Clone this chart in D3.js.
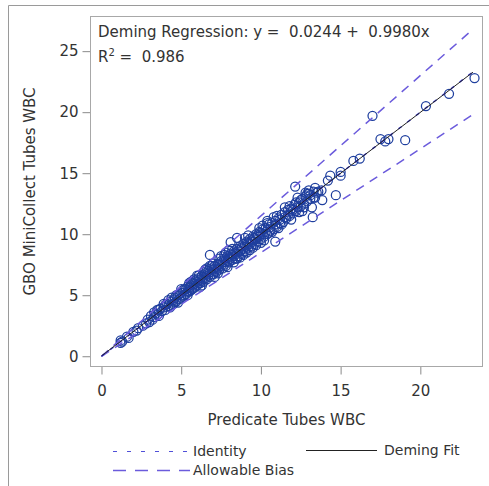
<!DOCTYPE html>
<html>
<head>
<meta charset="utf-8">
<style>
  body { margin: 0; background: #fff; }
  svg { font-family: "DejaVu Sans", Verdana, sans-serif; }
</style>
</head>
<body>
<svg width="489" height="486"></svg>
<script src="https://d3js.org/d3.v7.min.js"></script>
<script>
// paired WBC results
const predicateWBC = [
  1.2,1.2,1.3,1.6,1.7,2.3,2.2,2.8,2.9,3.0,3.1,3.3,3.4,3.5,3.6,3.7,3.8,3.9,4.0,4.1,
  4.2,4.3,4.4,4.5,4.5,4.6,4.7,4.8,4.9,5.0,5.0,5.1,5.2,5.3,5.3,5.4,5.5,5.5,5.6,5.7,
  5.8,5.8,5.9,6.0,6.0,6.1,6.2,6.2,6.3,6.4,6.4,6.5,6.6,6.6,6.7,6.8,6.8,6.9,7.0,7.0,
  7.1,7.2,7.2,7.3,7.4,7.4,7.5,7.6,7.6,7.7,7.8,7.8,7.9,8.0,8.0,8.1,8.2,8.2,8.3,8.4,
  8.4,8.5,8.6,8.6,8.7,8.8,8.8,8.9,9.0,9.0,9.1,9.2,9.2,9.3,9.4,9.4,9.5,9.6,9.6,9.7,
  9.8,9.8,9.9,10.0,10.0,10.1,10.2,10.3,10.4,10.5,10.6,10.7,10.8,10.9,11.0,11.1,11.2,11.3,11.4,11.5,
  11.6,11.7,11.8,11.9,12.0,12.1,12.2,12.4,12.5,12.6,12.7,12.8,12.9,13.0,13.1,13.3,13.5,
  5.0,5.6,6.0,6.5,7.0,7.5,8.0,6.3,7.1,7.9,8.7,9.5,10.2,4.2,3.5,9.0,9.9,10.8,11.5,12.3,
  11.9,12.6,10.5,6.8,6.2,5.4,4.8,7.3,8.5,9.3,
  3.2,3.6,4.0,4.3,4.6,4.7,4.9,5.1,5.2,5.4,5.6,5.7,5.9,6.1,6.1,6.3,6.5,6.7,6.9,6.9,
  7.1,7.3,7.5,7.7,7.7,7.9,8.1,8.3,8.3,8.5,8.7,8.9,9.1,9.1,9.3,9.5,9.7,9.7,9.9,10.1,
  10.1,10.3,10.4,10.6,10.7,10.9,11.0,11.2,11.3,11.5,11.7,11.8,12.0,12.2,12.3,12.5,12.7,12.9,13.1,13.3,
  13.4,13.6,13.8,12.4,11.1,10.0,8.9,7.8,6.6,5.5,4.4,3.9,3.3,2.6,2.0,5.8,6.4,7.4,8.2,9.2,10.4,
  23.4,21.8,20.35,17.0,19.05,17.5,17.8,18.0,16.2,15.8,15.0,15.0,14.35,14.2,12.15,14.7,13.85,13.2,13.25,
  10.9,6.8,8.1,8.5,12.8,13.0,13.4
];
const miniCollectWBC = [
  1.1,1.3,1.2,1.6,1.5,2.3,2.1,2.7,3.0,2.8,3.3,3.2,3.5,3.4,3.3,3.9,3.7,4.0,3.8,4.3,
  4.1,4.5,4.2,4.6,4.3,4.8,4.5,5.0,4.7,5.2,4.8,5.4,5.0,5.5,5.1,5.7,5.3,5.6,5.4,6.0,
  5.6,5.9,6.2,5.8,6.1,6.4,6.0,6.3,6.6,6.1,6.5,6.8,6.3,6.7,7.0,6.5,6.9,7.2,6.7,7.1,
  7.4,6.9,7.3,7.6,7.1,7.5,7.8,7.2,7.7,8.0,7.4,7.9,8.2,7.7,8.1,8.4,7.9,8.3,8.6,8.0,
  8.5,8.8,8.2,8.7,9.0,8.4,8.9,9.2,8.6,9.1,9.4,8.9,9.3,9.6,9.0,9.5,9.8,9.2,9.7,10.0,
  9.4,9.9,10.2,9.6,10.1,10.4,9.8,10.5,10.0,10.8,10.3,10.9,10.4,11.1,10.6,11.3,10.9,11.6,11.0,11.8,
  11.3,12.0,11.5,12.1,11.7,12.4,11.9,12.6,12.3,12.9,12.5,13.1,12.7,13.3,12.9,13.5,13.4,
  5.5,6.1,6.6,7.1,7.6,8.2,8.7,5.8,6.5,7.3,8.1,8.9,9.5,4.6,3.8,9.7,10.5,11.4,12.2,13.0,
  11.2,11.9,10.1,7.4,5.7,5.0,4.4,6.8,8.0,8.7,
  3.0,3.8,4.2,4.0,4.4,5.0,5.1,4.9,5.5,5.3,5.8,5.5,5.7,6.0,6.6,6.2,6.4,6.6,6.7,7.4,
  7.0,7.2,7.4,7.5,8.3,7.8,8.0,8.2,7.7,8.4,8.6,8.8,9.0,8.5,9.2,9.4,9.6,9.1,9.8,10.0,
  10.7,10.2,10.9,10.6,10.2,10.8,11.5,11.2,10.8,11.4,11.6,12.3,12.0,12.6,12.2,12.8,12.2,13.3,13.2,13.0,
  13.8,13.5,13.6,11.8,10.5,9.3,8.3,8.5,7.2,6.0,4.8,4.3,3.6,2.5,2.0,6.3,6.9,8.0,8.8,9.9,11.1,
  22.8,21.5,20.5,19.7,17.7,17.8,17.6,17.8,16.2,16.0,15.1,14.8,14.8,14.4,13.9,13.2,12.8,12.2,11.4,
  9.4,8.3,9.35,9.7,13.4,13.6,13.0
];
const xTicks = [0, 5, 10, 15, 20];
const yTicks = [0, 5, 10, 15, 20, 25];
const demingIntercept = 0.0244;
const demingSlope = 0.9980;
const rSquared = 0.986;
const biasPct = 0.15;

const points = predicateWBC.map((d, i) => ({x: d, y: miniCollectWBC[i]}));
const xMax = d3.max(predicateWBC);

const box = {left: 90.5, right: 482.5, top: 16.5, bottom: 366.5};
const svg = d3.select("svg");

const x = d3.scaleLinear().domain([-0.69, 23.9]).range([box.left, box.right]);
const y = d3.scaleLinear().domain([-0.84, 27.84]).range([box.bottom, box.top]);

// outer frame
svg.append("path")
    .attr("d", "M8.5,490V5.5H495")
    .attr("fill", "none")
    .attr("stroke", "#9a9a9a");

svg.append("defs").append("clipPath").attr("id", "plotclip")
  .append("rect")
    .attr("x", box.left).attr("y", box.top)
    .attr("width", box.right - box.left).attr("height", box.bottom - box.top);

// axes
svg.append("g")
    .attr("transform", `translate(0,${box.bottom})`)
    .call(d3.axisBottom(x).tickValues(xTicks).tickSize(8).tickPadding(11))
    .call(g => g.select(".domain").remove())
    .call(g => g.selectAll("line").attr("stroke", "#8a8a8a"))
    .call(g => g.selectAll("text").attr("font-size", 15).attr("fill", "#333").attr("font-family", "DejaVu Sans"));

svg.append("g")
    .attr("transform", `translate(${box.left},0)`)
    .call(d3.axisLeft(y).tickValues(yTicks).tickSize(8).tickPadding(4))
    .call(g => g.select(".domain").remove())
    .call(g => g.selectAll("line").attr("stroke", "#8a8a8a"))
    .call(g => g.selectAll("text").attr("font-size", 15).attr("fill", "#333").attr("font-family", "DejaVu Sans"));

svg.append("rect")
    .attr("x", box.left).attr("y", box.top)
    .attr("width", box.right - box.left).attr("height", box.bottom - box.top)
    .attr("fill", "none").attr("stroke", "#a8a8a8");

// axis titles
svg.append("text")
    .attr("x", (box.left + box.right) / 2).attr("y", 425)
    .attr("text-anchor", "middle").attr("font-size", 15).attr("fill", "#333")
    .text("Predicate Tubes WBC");

svg.append("text")
    .attr("transform", `translate(35,${(box.top + box.bottom) / 2}) rotate(-90)`)
    .attr("text-anchor", "middle").attr("font-size", 15).attr("fill", "#333")
    .text("GBO MiniCollect Tubes WBC");

const plot = svg.append("g").attr("clip-path", "url(#plotclip)");

// data points
plot.append("g")
    .attr("fill", "none")
    .attr("stroke", "#1f3f9e")
    .attr("stroke-width", 1.25)
  .selectAll("circle")
  .data(points)
  .join("circle")
    .attr("cx", d => x(d.x))
    .attr("cy", d => y(d.y))
    .attr("r", 4.5);

// allowable bias lines
[1 + biasPct, 1 - biasPct].forEach(k => {
  plot.append("line")
      .attr("x1", x(0)).attr("y1", y(0))
      .attr("x2", x(xMax - 0.1)).attr("y2", y(k * (xMax - 0.1)))
      .attr("stroke", "#6b5bdc").attr("stroke-width", 1.5)
      .attr("stroke-dasharray", "9,7");
});

// identity line
plot.append("line")
    .attr("x1", x(0)).attr("y1", y(0))
    .attr("x2", x(xMax)).attr("y2", y(xMax))
    .attr("stroke", "#3a3ad8").attr("stroke-width", 1.5)
    .attr("stroke-dasharray", "4,7");

// deming fit
plot.append("line")
    .attr("x1", x(0)).attr("y1", y(demingIntercept))
    .attr("x2", x(xMax - 0.1)).attr("y2", y(demingIntercept + demingSlope * (xMax - 0.1)))
    .attr("stroke", "#222").attr("stroke-width", 1);

// inset text
const inset = svg.append("g").attr("font-size", 15).attr("fill", "#333");
inset.append("text").attr("x", 98).attr("y", 37)
    .attr("xml:space", "preserve")
    .text(`Deming Regression: y =  ${demingIntercept.toFixed(4)} +  ${demingSlope.toFixed(4)}x`);
const r2 = inset.append("text").attr("x", 98).attr("y", 62).attr("xml:space", "preserve");
r2.append("tspan").text("R");
r2.append("tspan").attr("font-size", 10).attr("dy", -6).text("2");
r2.append("tspan").attr("dy", 6).text(` =  ${rSquared.toFixed(3)}`);

// legend
const legend = svg.append("g").attr("font-size", 14).attr("fill", "#333");
legend.append("line").attr("x1", 113).attr("x2", 190).attr("y1", 451.5).attr("y2", 451.5)
    .attr("stroke", "#5050d8").attr("stroke-width", 1.2).attr("stroke-dasharray", "4,10");
legend.append("text").attr("x", 193).attr("y", 456).text("Identity");
legend.append("line").attr("x1", 113).attr("x2", 190).attr("y1", 470.5).attr("y2", 470.5)
    .attr("stroke", "#6b5bdc").attr("stroke-width", 1.5).attr("stroke-dasharray", "13,9");
legend.append("text").attr("x", 193).attr("y", 475).text("Allowable Bias");
legend.append("line").attr("x1", 306).attr("x2", 377).attr("y1", 450.5).attr("y2", 450.5)
    .attr("stroke", "#222").attr("stroke-width", 1);
legend.append("text").attr("x", 384).attr("y", 455).text("Deming Fit");
</script>
</body>
</html>
